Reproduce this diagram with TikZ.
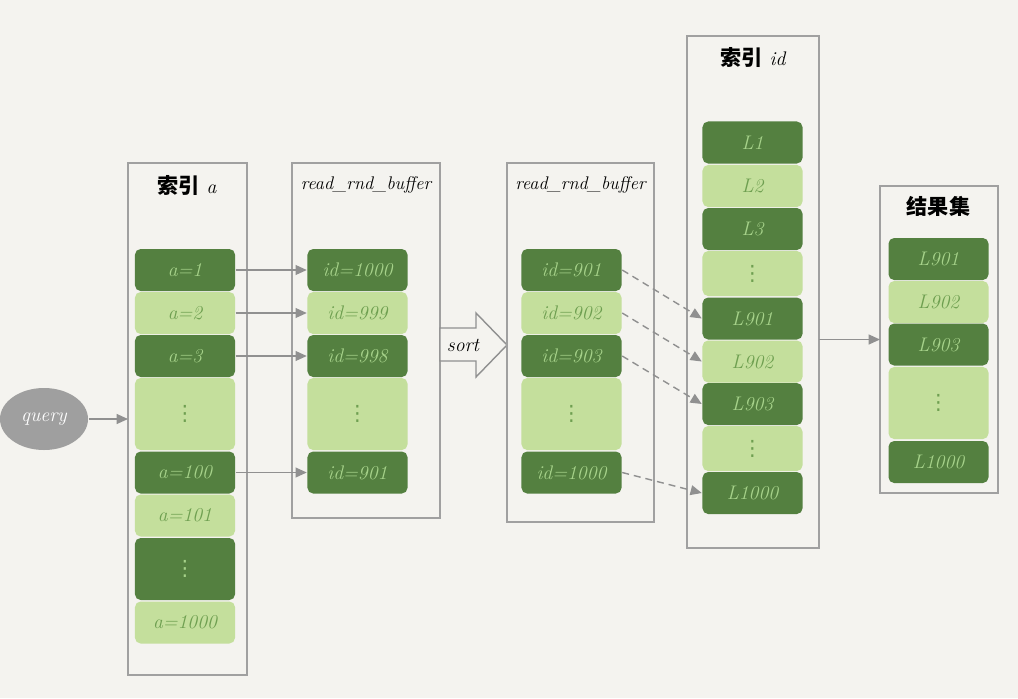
\documentclass[tikz,border=0pt]{standalone}
\usepackage{fontspec}
\usepackage{xcolor}
\usepackage{tikz}
\usetikzlibrary{arrows.meta, shapes.geometric}
\newfontfamily\cjk{Noto Sans CJK SC}
\newfontfamily\symb{DejaVu Sans}

\definecolor{paper}{HTML}{F4F3EF}
\definecolor{leafdark}{HTML}{548040}
\definecolor{leaflight}{HTML}{C4DF9C}
\definecolor{inkdark}{HTML}{A6D28A}
\definecolor{inklight}{HTML}{6E9F50}
\definecolor{frame}{HTML}{A0A0A0}
\definecolor{wire}{HTML}{909090}

\begin{document}
\begin{tikzpicture}[x=0.025cm, y=-0.025cm, line width=1pt,
    every node/.style={font=\fontsize{14}{16}\selectfont\itshape},
    panel/.style={draw=frame, inner sep=0pt, outer sep=0pt},
    cell/.style={rounded corners=4pt, inner sep=0pt, minimum width=2.5cm, minimum height=1.05cm},
    darkcell/.style={cell, fill=leafdark, text=inkdark},
    lightcell/.style={cell, fill=leaflight, text=inklight},
    dots/.style={font=\symb\fontsize{15}{15}\selectfont},
    title/.style={text=black},
    feed/.style={draw=wire, -{Triangle[length=8pt, width=7pt]}},
    hop/.style={feed, dash pattern=on 5pt off 3.5pt}]

        % 背景
        \fill[paper] (0,0) rectangle (1018,698);
        \useasboundingbox (0,0) rectangle (1018,698);

        % 索引 a
        \node[panel, minimum width=2.975cm, minimum height=12.8cm] (idxa) at (187.5,419) {};
        \node[title] (idxatitle) at (187,185) {{\cjk\bfseries\fontsize{15}{17}\selectfont 索引} a};
        \node[darkcell]  (a1)    at (185,270)   {a=1};
        \node[lightcell] (a2)    at (185,313)   {a=2};
        \node[darkcell]  (a3)    at (185,356)   {a=3};
        \node[lightcell, dots, minimum height=1.8cm]  (adots) at (185,414) {⋮};
        \node[darkcell]  (a100)  at (185,472.5) {a=100};
        \node[lightcell] (a101)  at (185,515.5) {a=101};
        \node[darkcell, dots, minimum height=1.55cm]  (adots2) at (185,569) {⋮};
        \node[lightcell] (a1000) at (185,622.5) {a=1000};

        % query
        \node[ellipse, fill=gray!75, text=white, minimum width=2.2cm, minimum height=1.55cm, inner sep=0pt] (query) at (44,419) {query};
        \draw[feed] (query) -- (idxa.west);

        % 第一个 read_rnd_buffer
        \node[panel, minimum width=3.7cm, minimum height=8.875cm] (buf) at (366,340.5) {};
        \node[title, font=\fontsize{13}{15}\selectfont\itshape] (buftitle) at (366,185) {read\_rnd\_buffer};
        \node[darkcell]  (b1000) at (357.5,270)   {id=1000};
        \node[lightcell] (b999)  at (357.5,313)   {id=999};
        \node[darkcell]  (b998)  at (357.5,356)   {id=998};
        \node[lightcell, dots, minimum height=1.8cm] (bdots) at (357.5,414) {⋮};
        \node[darkcell]  (b901)  at (357.5,472.5) {id=901};

        \draw[feed] (a1) -- (b1000);
        \draw[feed] (a2) -- (b999);
        \draw[feed] (a3) -- (b998);
        \draw[feed] (a100) -- (b901);

        % sort
        \draw[draw=wire, fill=paper] (440,328) -- (476,328) -- (476,313) -- (507,345)
            -- (476,377) -- (476,361) -- (440,361) -- cycle;
        \node[title] (sortlabel) at (463,345) {sort};

        % 排序后的 read_rnd_buffer
        \node[panel, minimum width=3.675cm, minimum height=8.975cm] (sbuf) at (580.5,342.5) {};
        \node[title, font=\fontsize{13}{15}\selectfont\itshape] (sbuftitle) at (580.5,185) {read\_rnd\_buffer};
        \node[darkcell]  (c901)  at (571.5,270)   {id=901};
        \node[lightcell] (c902)  at (571.5,313)   {id=902};
        \node[darkcell]  (c903)  at (571.5,356)   {id=903};
        \node[lightcell, dots, minimum height=1.8cm] (cdots) at (571.5,414) {⋮};
        \node[darkcell]  (c1000) at (571.5,472.5) {id=1000};

        % 索引 id
        \node[panel, minimum width=3.3cm, minimum height=12.8cm] (idxid) at (753,292) {};
        \node[title] (idxidtitle) at (753,57) {{\cjk\bfseries\fontsize{15}{17}\selectfont 索引} id};
        \node[darkcell]  (L1)    at (752.5,142.5) {L1};
        \node[lightcell] (L2)    at (752.5,186)   {L2};
        \node[darkcell]  (L3)    at (752.5,229)   {L3};
        \node[lightcell, dots, minimum height=1.125cm] (Ldots) at (752.5,273.5) {⋮};
        \node[darkcell]  (L901)  at (752.5,318.5) {L901};
        \node[lightcell] (L902)  at (752.5,361.5) {L902};
        \node[darkcell]  (L903)  at (752.5,404)   {L903};
        \node[lightcell, dots, minimum height=1.125cm] (Ldots2) at (752.5,448.5) {⋮};
        \node[darkcell]  (L1000) at (752.5,493)   {L1000};

        \draw[hop] (c901.east) -- (L901.west);
        \draw[hop] (c902.east) -- (L902.west);
        \draw[hop] (c903.east) -- (L903.west);
        \draw[hop] (c1000.east) -- (L1000.west);

        % 结果集
        \node[panel, minimum width=2.95cm, minimum height=7.675cm] (res) at (939,339.5) {};
        \node[title] (restitle) at (938.5,206) {\cjk\bfseries\fontsize{15}{17}\selectfont 结果集};
        \node[darkcell]  (r901)  at (938.5,259)   {L901};
        \node[lightcell] (r902)  at (938.5,302)   {L902};
        \node[darkcell]  (r903)  at (938.5,344.5) {L903};
        \node[lightcell, dots, minimum height=1.8cm] (rdots) at (938.5,403) {⋮};
        \node[darkcell]  (r1000) at (938.5,462)   {L1000};

        \draw[feed] (idxid.east |- res.west) -- (res.west);
    \end{tikzpicture}
\end{document}
